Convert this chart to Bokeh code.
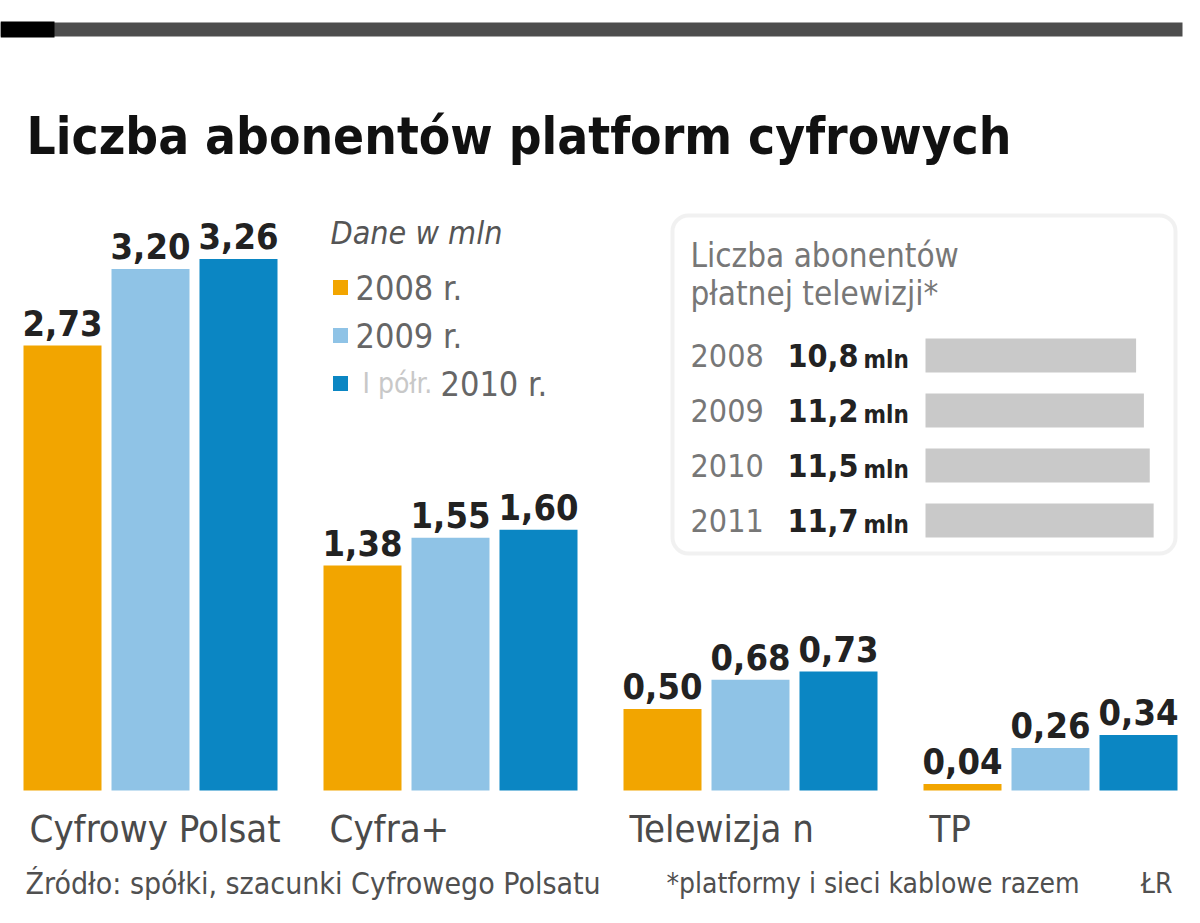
from bokeh.plotting import figure
from bokeh.models import Range1d, ColumnDataSource, BoxAnnotation
from bokeh.core.properties import value
from bokeh.embed import file_html
from bokeh.resources import INLINE

# ---------------- data ----------------
categories = ["Cyfrowy Polsat", "Cyfra+", "Telewizja n", "TP"]
series_names = ["2008 r.", "2009 r.", "2010 r."]
v2008 = [2.73, 1.38, 0.50, 0.04]
v2009 = [3.20, 1.55, 0.68, 0.26]
v2010 = [3.26, 1.60, 0.73, 0.34]
series_values = [v2008, v2009, v2010]
series_colors = ["#F2A500", "#8FC3E6", "#0B86C3"]

inset_years = ["2008", "2009", "2010", "2011"]
inset_values = [10.8, 11.2, 11.5, 11.7]

title = "Liczba abonentów platform cyfrowych"
unit_note = "Dane w mln"
inset_title = ["Liczba abonentów", "płatnej telewizji*"]
source_note = "Źródło: spółki, szacunki Cyfrowego Polsatu"
footnote = "*platformy i sieci kablowe razem"
author = "ŁR"

# ---------------- figure ----------------
NARROW = "DejaVu Sans Condensed"
W, H = 1184, 907
BASE_Y = 790.0       # pixel of the bar baseline
PX_PER_UNIT = 163.0  # pixels per million subscribers

p = figure(width=W, height=H, output_backend="svg", toolbar_location=None,
           x_range=Range1d(0, W),
           y_range=Range1d(-(H - BASE_Y) / PX_PER_UNIT, BASE_Y / PX_PER_UNIT),
           x_axis_location=None, y_axis_location=None, min_border=0)
p.outline_line_color = None
p.grid.visible = False
p.background_fill_color = "white"
p.border_fill_color = "white"

INSET_X0, INSET_SCALE = 925.0, 19.5
ROW_Y0, ROW_PITCH = 355.0, 55.0
p.extra_x_ranges = {
    "px": Range1d(0, W),
    "inset": Range1d(-INSET_X0 / INSET_SCALE, (W - INSET_X0) / INSET_SCALE),
}
p.extra_y_ranges = {
    "px": Range1d(H, 0),
    "rows": Range1d((H - ROW_Y0) / ROW_PITCH, -ROW_Y0 / ROW_PITCH),
}


def txt(x, y, s, size, color, style="normal", align="left", baseline="middle",
        xr="px", yr="px", font=NARROW):
    p.text(x=[x], y=[y], text=[s], x_range_name=xr, y_range_name=yr,
           text_font=value(font), text_font_size=f"{size}px", text_color=color,
           text_font_style=style, text_align=align, text_baseline=baseline)


# top rule
p.quad(left=[0], right=[1182], top=[22], bottom=[36], x_range_name="px", y_range_name="px",
       fill_color="#4d4d4d", line_color=None)
p.quad(left=[0], right=[54], top=[21], bottom=[37], x_range_name="px", y_range_name="px",
       fill_color="#000000", line_color=None)

# title
txt(26, 136, title, 51, "#111111", style="bold")

# inset box
box = BoxAnnotation(left=672, right=1175, top=215, bottom=553,
                    x_range_name="px", y_range_name="px",
                    fill_color="white", fill_alpha=1.0, line_color="#d0d0d0",
                    line_width=4, border_radius=16, level="underlay")
p.add_layout(box)

# ---------------- grouped bars ----------------
GROUP_X0, GROUP_PITCH, BAR_PITCH, BAR_W = 62, 300, 88, 78
for j, (vals, col) in enumerate(zip(series_values, series_colors)):
    xs = [GROUP_X0 + GROUP_PITCH * i + BAR_PITCH * j for i in range(len(categories))]
    src = ColumnDataSource(dict(x=xs, top=vals,
                                label=[f"{v:.2f}".replace(".", ",") for v in vals]))
    p.vbar(x="x", top="top", bottom=0, width=BAR_W, source=src,
           fill_color=col, line_color=None)
    p.text(x="x", y="top", text="label", source=src, text_align="center",
           text_baseline="middle", y_offset=-23, text_font=value(NARROW),
           text_font_size="36px", text_font_style="bold", text_color="#222222")

# category labels
cat_x = [GROUP_X0 + GROUP_PITCH * i - BAR_W / 2 + 6 for i in range(len(categories))]
p.text(x=cat_x, y=[828] * len(categories), text=categories, y_range_name="px",
       text_align="left", text_baseline="middle", text_font=value(NARROW),
       text_font_size="38px", text_color="#4a4a4a")

# legend
txt(330, 232, unit_note, 32, "#555555", style="italic")
leg_y = [287, 335, 383]
p.scatter(x=[340] * 3, y=leg_y, marker="square", size=15, fill_color=series_colors,
          line_color=None, x_range_name="px", y_range_name="px")
txt(355, leg_y[0], series_names[0], 34, "#666666")
txt(355, leg_y[1], series_names[1], 34, "#666666")
txt(362, leg_y[2], "I półr.", 28, "#c8c8c8")
txt(440, leg_y[2], series_names[2], 34, "#666666")

# ---------------- inset ----------------
txt(690, 255, inset_title[0], 33, "#777777")
txt(690, 293, inset_title[1], 33, "#777777")
rows = list(range(len(inset_years)))
p.hbar(y=rows, left=0, right=inset_values, height=0.62, x_range_name="inset",
       y_range_name="rows", fill_color="#c9c9c9", line_color=None)
p.text(x=[690] * 4, y=rows, text=inset_years, y_range_name="rows", x_range_name="px",
       text_align="left", text_baseline="middle", text_font=value(NARROW),
       text_font_size="32px", text_color="#777777")
p.text(x=[858] * 4, y=rows, text=[f"{v:.1f}".replace(".", ",") for v in inset_values],
       y_range_name="rows", x_range_name="px", text_align="right", text_baseline="middle",
       text_font=value(NARROW), text_font_size="32px", text_font_style="bold",
       text_color="#222222")
p.text(x=[863] * 4, y=rows, text=["mln"] * 4, y_range_name="rows", x_range_name="px",
       text_align="left", text_baseline="middle", y_offset=4, text_font=value(NARROW),
       text_font_size="24px", text_font_style="bold", text_color="#222222")

# footer
txt(25, 883, source_note, 30, "#505050")
txt(666, 883, footnote, 28, "#505050")
txt(1172, 883, author, 28, "#505050", align="right")

open("out.html", "w").write(file_html(p, INLINE))
